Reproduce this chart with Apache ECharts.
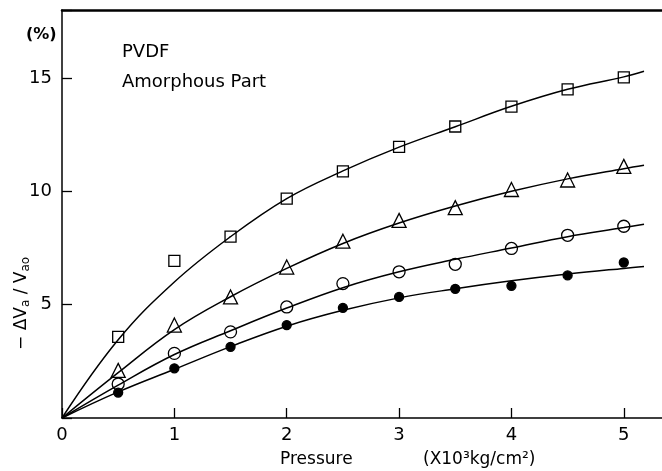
<!DOCTYPE html>
<html>
<head>
<meta charset="utf-8">
<script src="https://cdn.jsdelivr.net/npm/echarts@6/dist/echarts.min.js"></script>
<style>html,body{margin:0;padding:0;background:#fff;}#c{width:662px;height:471px;}</style>
</head>
<body>
<div id="c"></div>
<script>
// Measured points (pressure in 10^3 kg/cm^2, -ΔVa/Vao in %)
var pressure = [0.5, 1, 1.5, 2, 2.5, 3, 3.5, 4, 4.5, 5];
var squarePts   = [3.58, 6.93, 8.0, 9.68, 10.88, 11.96, 12.86, 13.74, 14.5, 15.03];
var trianglePts = [2.1, 4.1, 5.34, 6.66, 7.8, 8.72, 9.28, 10.08, 10.5, 11.1];
var circlePts   = [1.5, 2.85, 3.8, 4.9, 5.93, 6.45, 6.78, 7.48, 8.06, 8.46];
var filledPts   = [1.12, 2.19, 3.14, 4.1, 4.86, 5.34, 5.7, 5.83, 6.29, 6.86];

// Fitted curves
var curveX        = [0, 0.5, 1, 1.5, 2, 2.5, 3, 3.5, 4, 4.5, 5, 5.18];
var squareCurve   = [0, 3.45, 6.0, 8.0, 9.68, 10.9, 11.95, 12.85, 13.75, 14.5, 15.05, 15.3];
var triangleCurve = [0, 2.0, 3.9, 5.35, 6.6, 7.7, 8.6, 9.35, 10.0, 10.55, 11.0, 11.15];
var circleCurve   = [0, 1.45, 2.8, 3.85, 4.85, 5.75, 6.45, 7.0, 7.5, 8.0, 8.4, 8.55];
var filledCurve   = [0, 1.15, 2.15, 3.15, 4.05, 4.75, 5.3, 5.7, 6.05, 6.35, 6.6, 6.68];

var yTickLabels = ['5', '10', '15'];
var xTickLabels = ['0', '1', '2', '3', '4', '5'];

function pairs(xs, ys) { return xs.map(function (x, i) { return [x, ys[i]]; }); }

var FONT = 'DejaVu Sans';
var chart = echarts.init(document.getElementById('c'), null, { renderer: 'canvas' });

function curve(ys) {
  return { type: 'line', data: pairs(curveX, ys), smooth: 0.4, showSymbol: false, silent: true,
    lineStyle: { color: '#000', width: 1.5 }, z: 2 };
}
function pts(ys, symbol, size, filled) {
  return { type: 'scatter', data: pairs(pressure, ys), symbol: symbol, symbolSize: size, z: 3,
    itemStyle: { color: filled ? '#000' : 'rgba(0,0,0,0)', borderColor: '#000', borderWidth: 1.3, opacity: 1 } };
}

chart.setOption({
  animation: false,
  backgroundColor: '#fff',
  grid: { left: 62, right: 0, top: 10, bottom: 53, containLabel: false },
  xAxis: [{
    type: 'value', min: 0, max: 5.34, interval: 1,
    axisLine: { show: true, lineStyle: { color: '#000', width: 1.5 } },
    axisTick: { show: true, inside: true, length: 10, lineStyle: { color: '#000', width: 1.3 } },
    axisLabel: { show: true, color: '#000', fontSize: 18, fontFamily: FONT, margin: 8,
      showMaxLabel: false,
      formatter: function (v) { var s = String(Math.round(v)); return (Math.abs(v - Math.round(v)) < 1e-6 && xTickLabels.indexOf(s) >= 0) ? s : ''; } },
    splitLine: { show: false }
  }, {
    type: 'value', position: 'top', min: 0, max: 5.34,
    axisLine: { show: true, lineStyle: { color: '#000', width: 2.5 } },
    axisTick: { show: false }, axisLabel: { show: false }, splitLine: { show: false }
  }],
  yAxis: {
    type: 'value', min: 0, max: 18, interval: 5,
    axisLine: { show: true, lineStyle: { color: '#000', width: 1.5 } },
    axisTick: { show: true, inside: true, length: 10, lineStyle: { color: '#000', width: 1.3 } },
    axisLabel: { show: true, color: '#000', fontSize: 18, fontFamily: FONT, margin: 10,
      formatter: function (v) { var s = String(v); return yTickLabels.indexOf(s) >= 0 ? s : ''; } },
    splitLine: { show: false }
  },
  series: [
    curve(squareCurve), curve(triangleCurve), curve(circleCurve), curve(filledCurve),
    pts(squarePts, 'rect', 11, false),
    pts(trianglePts, 'triangle', 14, false),
    pts(circlePts, 'circle', 12, false),
    pts(filledPts, 'circle', 9, true)
  ],
  graphic: [
    { type: 'text', left: 26, top: 27, style: { text: '(%)', font: 'bold 16px ' + FONT, fill: '#000' } },
    { type: 'text', left: 122, top: 43, style: { text: 'PVDF', font: '18px ' + FONT, fill: '#000' } },
    { type: 'text', left: 122, top: 73, style: { text: 'Amorphous Part', font: '18px ' + FONT, fill: '#000' } },
    { type: 'text', left: 280, top: 451, style: { text: 'Pressure', font: '17px ' + FONT, fill: '#000' } },
    { type: 'text', left: 423, top: 451, style: { text: '(X10³kg/cm²)', font: '17px ' + FONT, fill: '#000' } },
    { type: 'text', x: 12, y: 350, rotation: Math.PI / 2,
      style: { text: '− ΔV{s|a} / V{s|ao}', font: '17px ' + FONT, fill: '#000',
        rich: { s: { fontSize: 12, fontFamily: FONT, fill: '#000', padding: [8, 0, 0, 0] } } } }
  ]
});
</script>
</body>
</html>
